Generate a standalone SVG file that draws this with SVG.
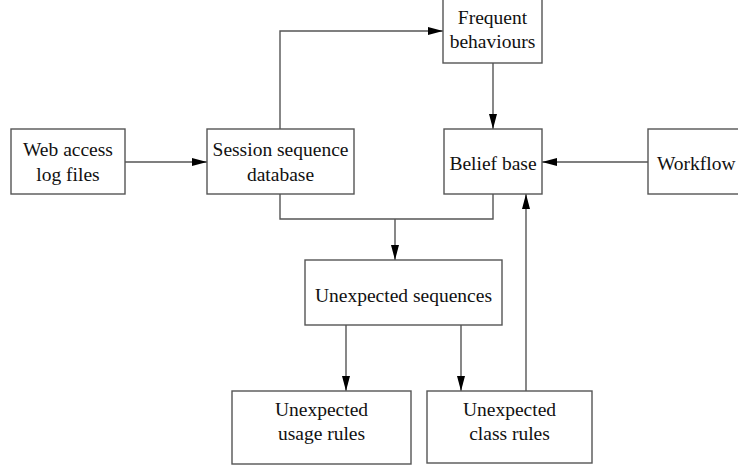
<svg xmlns="http://www.w3.org/2000/svg" width="738" height="469" viewBox="0 0 738 469">
<defs>
<marker id="ah" markerWidth="15" markerHeight="8" refX="15" refY="4" orient="auto" markerUnits="userSpaceOnUse" viewBox="0 0 15 8">
<path d="M0,0 L15,4 L0,8 Z" fill="#000"/>
</marker>
<style>
.box{fill:#fff;stroke:#555;stroke-width:1.4}
.ln{fill:none;stroke:#555;stroke-width:1.4}
.t{font-family:"Liberation Serif","Times New Roman",serif;font-size:19.5px;fill:#111;text-anchor:middle}
</style>
</defs>
<rect width="738" height="469" fill="#fff"/>
<g id="connectors">
<line class="ln" x1="125" y1="162" x2="207" y2="162" marker-end="url(#ah)"/>
<polyline class="ln" points="280,129 280,31 443,31" marker-end="url(#ah)"/>
<line class="ln" x1="493" y1="63" x2="493" y2="129" marker-end="url(#ah)"/>
<line class="ln" x1="648" y1="162" x2="542" y2="162" marker-end="url(#ah)"/>
<polyline class="ln" points="280,194 280,219 493,219 493,194"/>
<line class="ln" x1="395" y1="219" x2="395" y2="260" marker-end="url(#ah)"/>
<line class="ln" x1="346" y1="325" x2="346" y2="391" marker-end="url(#ah)"/>
<line class="ln" x1="461" y1="325" x2="461" y2="391" marker-end="url(#ah)"/>
<line class="ln" x1="526" y1="391" x2="526" y2="194" marker-end="url(#ah)"/>
</g>
<g id="web">
<rect class="box" x="11" y="129" width="114" height="65"/>
<text class="t" x="68" y="156">Web access</text>
<text class="t" x="68" y="181">log files</text>
</g>
<g id="session">
<rect class="box" x="207" y="129" width="147" height="65"/>
<text class="t" x="280.5" y="156">Session sequence</text>
<text class="t" x="280.5" y="181">database</text>
</g>
<g id="frequent">
<rect class="box" x="443" y="-2" width="99" height="65"/>
<text class="t" x="492.5" y="24">Frequent</text>
<text class="t" x="492.5" y="48">behaviours</text>
</g>
<g id="belief">
<rect class="box" x="444" y="129" width="98" height="65"/>
<text class="t" x="493" y="170">Belief base</text>
</g>
<g id="workflow">
<rect class="box" x="648" y="129" width="100" height="65"/>
<text class="t" x="657" y="170" style="text-anchor:start">Workflow</text>
</g>
<g id="unexpected">
<rect class="box" x="305" y="260" width="197" height="65"/>
<text class="t" x="403.5" y="302">Unexpected sequences</text>
</g>
<g id="usage">
<rect class="box" x="232" y="391" width="179" height="73"/>
<text class="t" x="321.5" y="416">Unexpected</text>
<text class="t" x="321.5" y="440">usage rules</text>
</g>
<g id="class">
<rect class="box" x="427" y="391" width="165" height="72"/>
<text class="t" x="509.5" y="416">Unexpected</text>
<text class="t" x="509.5" y="440">class rules</text>
</g>
</svg>
